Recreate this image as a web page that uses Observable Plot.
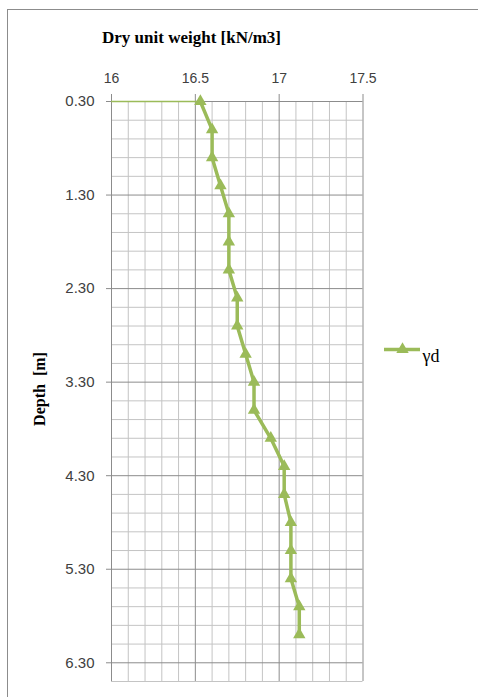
<!DOCTYPE html>
<html>
<head>
<meta charset="utf-8">
<script src="https://cdn.jsdelivr.net/npm/d3@7"></script>
<script src="https://cdn.jsdelivr.net/npm/@observablehq/plot@0.6"></script>
<style>
  html, body { margin: 0; padding: 0; background: #fff; }
  #wrap { position: relative; width: 478px; height: 697px; overflow: hidden; background: #fff; }
  #frame { position: absolute; left: 7px; top: 9px; width: 600px; height: 800px;
           border-left: 1px solid #8c8c8c; border-top: 1px solid #8c8c8c; }
  #chart { position: absolute; left: 0; top: 0; }
  #title { position: absolute; left: 0; width: 383px; top: 28px; text-align: center;
           font: bold 17px "Liberation Serif", serif; color: #000; white-space: nowrap; }
  #ylab { position: absolute; left: 40px; top: 389px; transform: translate(-50%, -50%) rotate(-90deg);
          font: bold 16px "Liberation Serif", serif; color: #000; white-space: pre; }
  #legend { position: absolute; left: 380px; top: 335px; }
</style>
</head>
<body>
<div id="wrap">
  <div id="frame"></div>
  <div id="chart"></div>
  <div id="title">Dry unit weight [kN/m3]</div>
  <div id="ylab">Depth  [m]</div>
  <div id="legend"></div>
</div>
<script>
// ---- data ----
const depth = [0.3, 0.6, 0.9, 1.2, 1.5, 1.8, 2.1, 2.4, 2.7, 3.0,
               3.3, 3.6, 3.9, 4.2, 4.5, 4.8, 5.1, 5.4, 5.7, 6.0];
const dryUnitWeight = [16.53, 16.60, 16.60, 16.65, 16.70, 16.70, 16.70, 16.75, 16.75, 16.80,
                       16.85, 16.85, 16.95, 17.03, 17.03, 17.07, 17.07, 17.07, 17.12, 17.12];
const seriesName = "γd";
const xTicks = [16, 16.5, 17, 17.5];
const yTicks = [0.3, 1.3, 2.3, 3.3, 4.3, 5.3, 6.3];
const xDomain = [16, 17.5];
const yDomain = [0.3, 6.5];

const data = depth.map((d, i) => ({depth: d, w: dryUnitWeight[i]}));

const green = "#9BBB59";
const xMinor = d3.range(161, 175).map(v => v / 10).filter(v => !xTicks.includes(v));
const yMinor = d3.range(0, 32).map(k => Math.round((0.5 + 0.2 * k) * 10) / 10).filter(v => v <= 6.5 && !yTicks.includes(v));

const chart = Plot.plot({
  width: 478,
  height: 697,
  marginLeft: 111,
  marginRight: 115.5,
  marginTop: 101,
  marginBottom: 16,
  style: {background: "transparent", fontFamily: "'Liberation Sans', Arial, sans-serif"},
  x: {domain: xDomain, axis: null},
  y: {domain: yDomain, reverse: true, axis: null},
  marks: [
    Plot.ruleX(xMinor, {stroke: "#c4c4c4", strokeWidth: 1}),
    Plot.ruleY(yMinor, {stroke: "#c4c4c4", strokeWidth: 1}),
    Plot.ruleX(xTicks, {stroke: "#8c8c8c", strokeWidth: 1, insetTop: -7}),
    Plot.ruleY(yTicks, {stroke: "#8c8c8c", strokeWidth: 1, insetLeft: -5}),
    Plot.axisX({anchor: "top", ticks: xTicks, tickSize: 0, tickPadding: 19, label: null,
                tickFormat: d => String(d), fontSize: 14, fill: "#404040"}),
    Plot.axisY({anchor: "left", ticks: yTicks, tickSize: 0, tickPadding: 17, label: null,
                tickFormat: d => d.toFixed(2), fontSize: 15, fill: "#404040"}),
    Plot.ruleY([data[0]], {y: "depth", x1: () => xDomain[0], x2: "w", stroke: green, strokeWidth: 1.3}),
    Plot.line(data, {x: "w", y: "depth", stroke: green, strokeWidth: 3.5}),
    Plot.dot(data, {x: "w", y: "depth", symbol: "triangle", r: 4.6, fill: green, stroke: "none"})
  ]
});
document.getElementById("chart").appendChild(chart);

// legend drawn with Plot too (its own tiny SVG)
const legend = Plot.plot({
  width: 90, height: 40, margin: 0,
  style: {background: "transparent"},
  x: {domain: [0, 90], range: [0, 90], axis: null},
  y: {domain: [0, 40], range: [0, 40], axis: null},
  marks: [
    Plot.ruleY([14], {x1: 4, x2: 40, stroke: green, strokeWidth: 3.5}),
    Plot.dot([{x: 22, y: 14}], {x: "x", y: "y", symbol: "triangle", r: 4.6, fill: green}),
    Plot.text([seriesName], {x: 42, y: 26, text: d => d, textAnchor: "start", fontSize: 18,
              fontFamily: "'Liberation Serif', serif", fill: "#000", lineAnchor: "bottom"})
  ]
});
document.getElementById("legend").appendChild(legend);
</script>
</body>
</html>
